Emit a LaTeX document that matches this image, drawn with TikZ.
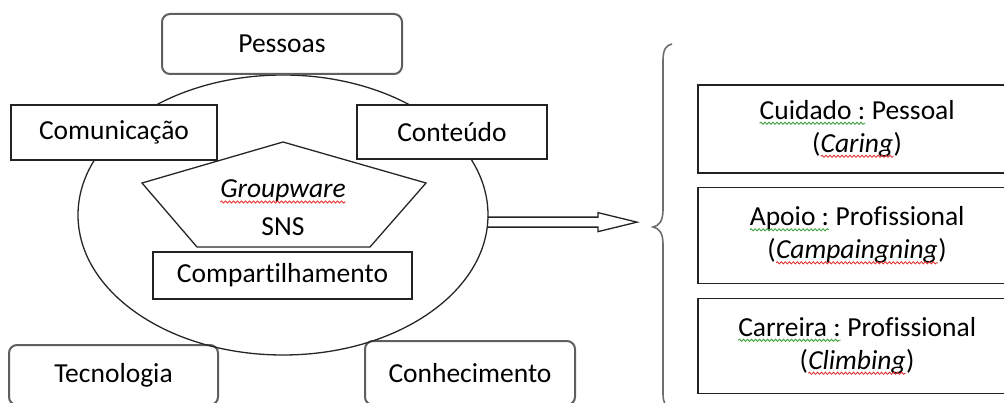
\documentclass[tikz,border=0pt]{standalone}
\usepackage{fontspec}
\setmainfont{Carlito}[Ligatures={NoCommon}]
\usetikzlibrary{shapes.geometric,decorations.pathmorphing,calc}
\definecolor{sqred}{RGB}{225,40,40}
\definecolor{sqgreen}{RGB}{50,160,50}
\definecolor{boxline}{RGB}{35,35,35}
\definecolor{roundline}{RGB}{95,95,95}
\definecolor{braceline}{RGB}{110,110,110}
\newcommand\wavy[2]{\tikz[baseline=(w.base)]{\node[rectangle,draw=none,fill=none,inner sep=0pt,outer sep=0pt,minimum width=0pt,minimum height=0pt,anchor=base,rounded corners=0pt,text=black] (w) {#2};\draw[draw=#1,line width=0.8pt,rounded corners=0pt,decorate,decoration={snake,amplitude=1.1pt,segment length=4pt}] ([yshift=-4pt]w.base west) -- ([yshift=-4pt]w.base east);}}
\tikzset{
  txt/.style={font=\fontsize{27.5}{33}\selectfont, text=black, align=center},
  lbl/.style={txt, inner sep=0pt},
  sqbox/.style={txt, rectangle, draw=boxline, line width=1.8pt, fill=white, inner sep=0pt},
  rbox/.style={txt, rectangle, draw=roundline, line width=2pt, fill=white, rounded corners=8pt, inner sep=0pt},
  thinline/.style={draw=black!85, line width=1.3pt},
  hollow/.style={draw=boxline, line width=1.3pt, line join=miter},
  bracestyle/.style={draw=braceline, line width=1.6pt}
}
\begin{document}
\begin{tikzpicture}[x=1pt,y=-1pt]
\useasboundingbox (0,0) rectangle (1004,403);
\clip (0,0) rectangle (1004,403);
% bottom rounded boxes
\node[rbox, minimum width=209pt, minimum height=60pt] (tecno) at (113.5,375) {Tecnologia};
\node[rbox, minimum width=210pt, minimum height=64pt] (conhec) at (470,373) {Conhecimento};
% ellipse
\node[ellipse, thinline, minimum width=410pt, minimum height=280pt, inner sep=0pt, outer sep=0pt] (circ) at (283,215) {};
% pentagon
\coordinate (p1) at (283,142);
\coordinate (p2) at (426,183);
\coordinate (p3) at (370,247);
\coordinate (p4) at (197,247);
\coordinate (p5) at (142,183);
\draw[thinline, fill=white] (p1) -- (p2) -- (p3) -- (p4) -- (p5) -- cycle;
\node[lbl, anchor=base] (gw) at (283,198) {\wavy{sqred}{\itshape Groupware}};
\node[lbl, anchor=base] (sns) at (283,236) {SNS};
% boxes on the ellipse
\node[rbox, minimum width=240pt, minimum height=60pt] (pessoas) at (282,44) {Pessoas};
\node[sqbox, minimum width=206pt, minimum height=55pt] (comunic) at (114,132.5) {Comunicação};
\node[sqbox, minimum width=190pt, minimum height=54pt] (conteudo) at (452,132) {Conteúdo};
\node[sqbox, minimum width=259pt, minimum height=47pt] (compart) at (282.5,275.5) {Compartilhamento};
% hollow arrow
\coordinate (as) at (circ.-2.5);
\coordinate (tipx) at (637,0);
\coordinate (hbx) at (598,0);
\coordinate (tip) at (as -| tipx);
\coordinate (hb) at (as -| hbx);
\draw[hollow] ([yshift=5pt]as) -- ([yshift=5pt]hb) -- ([yshift=9.5pt]hb) -- (tip) -- ([yshift=-9.5pt]hb) -- ([yshift=-5pt]hb) -- ([yshift=-5pt]as);
% brace
\draw[bracestyle] (672,44) .. controls (666,45) and (663,50) .. (663,60) -- (663,210) .. controls (663,221) and (659,226) .. (653,227) .. controls (659,228) and (663,233) .. (663,244) -- (663,394) .. controls (663,403) and (666,408) .. (672,410);
% right boxes
\node[sqbox, minimum width=318pt, minimum height=88pt] (r1) at (857,129) {\wavy{sqgreen}{Cuidado :} Pessoal\\(\wavy{sqred}{\itshape Caring})};
\node[sqbox, minimum width=318pt, minimum height=96pt] (r2) at (857,235.5) {\wavy{sqgreen}{Apoio :} Profissional\\(\wavy{sqred}{\itshape Campaingning})};
\node[sqbox, minimum width=318pt, minimum height=95pt] (r3) at (857,346) {\wavy{sqgreen}{Carreira :} Profissional\\(\wavy{sqred}{\itshape Climbing})};
\end{tikzpicture}
\end{document}
